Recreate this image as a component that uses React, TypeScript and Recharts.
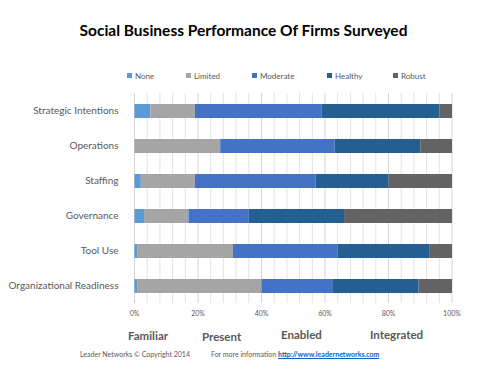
import React from 'react';
import { ComposedChart, Bar, XAxis, YAxis, CartesianGrid } from 'recharts';

const categories = ['Strategic Intentions', 'Operations', 'Staffing', 'Governance', 'Tool Use', 'Organizational Readiness'];
const noneVals = [5, 0, 2, 3, 1, 1];
const limitedVals = [14, 27, 17, 14, 30, 39];
const moderateVals = [40, 36, 38, 19, 33, 22.5];
const healthyVals = [37, 27, 23, 30, 29, 27];
const robustVals = [4, 10, 20, 34, 7, 10.5];
const majorTicks = [0, 20, 40, 60, 80, 100];
const minorTicks = [4, 8, 12, 16, 24, 28, 32, 36, 44, 48, 52, 56, 64, 68, 72, 76, 84, 88, 92, 96];
const stageLabels = ['Familiar', 'Present', 'Enabled', 'Integrated'];

const seriesNames = ['None', 'Limited', 'Moderate', 'Healthy', 'Robust'];
const seriesColors = ['#5B9BD5', '#A5A5A5', '#4472C4', '#255E91', '#636363'];

const data = categories.map((c, i) => ({
  name: c,
  None: noneVals[i],
  Limited: limitedVals[i],
  Moderate: moderateVals[i],
  Healthy: healthyVals[i],
  Robust: robustVals[i],
}));

const font = 'Lato, "Open Sans", sans-serif';
const legendX = [127, 186, 252, 327, 393];
const stageX = [128, 202, 281, 370];
const stageY = [329, 330, 328, 328];

const gridGen = (ticks: number[]) => (props: any) => {
  const { xAxis, offset } = props;
  if (xAxis && typeof xAxis.scale === 'function') {
    return ticks.map((t) => xAxis.scale(t));
  }
  return ticks.map((t) => offset.left + (t / 100) * offset.width);
};

const YTick = (props: any) => {
  const { x, y, payload } = props;
  return (
    <text x={x} y={y} dy={3.5} textAnchor="end" fontSize={10} fill="#595959" fontFamily={font}>
      {payload.value}
    </text>
  );
};

export default function App() {
  return (
    <div style={{ position: 'absolute', left: 0, top: 0, width: 491, height: 372, background: '#fff', fontFamily: font }}>
      <div style={{ position: 'absolute', left: 0, width: 487, top: 20, textAlign: 'center', fontSize: 15.5, fontWeight: 700, color: '#000', lineHeight: '20px' }}>
        Social Business Performance Of Firms Surveyed
      </div>
      {seriesNames.map((n, i) => (
        <div key={n} style={{ position: 'absolute', left: legendX[i], top: 70, fontSize: 8, color: '#595959', lineHeight: '12px', whiteSpace: 'nowrap' }}>
          <span style={{ display: 'inline-block', width: 5, height: 5, background: seriesColors[i], marginRight: 3, verticalAlign: 'middle', position: 'relative', top: -1 }} />
          {n}
        </div>
      ))}
      <ComposedChart
        width={491}
        height={372}
        data={data}
        layout="vertical"
        margin={{ top: 93, right: 39, bottom: 49, left: 10 }}
        style={{ position: 'absolute', left: 0, top: 0 }}
      >
        <CartesianGrid horizontal={false} stroke="#E3E3E3" verticalCoordinatesGenerator={gridGen(minorTicks)} />
        <CartesianGrid horizontal={false} stroke="#D4D4D4" verticalCoordinatesGenerator={gridGen(majorTicks)} />
        <XAxis
          type="number"
          domain={[0, 100]}
          ticks={majorTicks}
          tickFormatter={(v: number) => `${v}%`}
          axisLine={false}
          tickLine={false}
          tick={{ fontSize: 7, fill: '#595959', fontFamily: font }}
          height={20}
          tickMargin={2}
        />
        <YAxis
          type="category"
          dataKey="name"
          width={124.5}
          axisLine={false}
          tickLine={false}
          tick={<YTick />}
          tickMargin={10}
        />
        {seriesNames.map((n, i) => (
          <Bar key={n} dataKey={n} stackId="a" fill={seriesColors[i]} barSize={14} isAnimationActive={false} />
        ))}
      </ComposedChart>
      {stageLabels.map((s, i) => (
        <div key={s} style={{ position: 'absolute', left: stageX[i], top: stageY[i], fontSize: 11.5, fontWeight: 700, color: '#595959', lineHeight: '14px' }}>
          {s}
        </div>
      ))}
      <div style={{ position: 'absolute', left: 80, top: 349, fontSize: 7, color: '#595959', lineHeight: '10px', whiteSpace: 'nowrap' }}>
        Leader Networks © Copyright 2014
      </div>
      <div style={{ position: 'absolute', left: 211, top: 349, fontSize: 7, color: '#595959', lineHeight: '10px', whiteSpace: 'nowrap' }}>
        For more information{' '}
        <span style={{ color: '#0563C1', textDecoration: 'underline', fontWeight: 700 }}>http://www.leadernetworks.com</span>
      </div>
    </div>
  );
}
